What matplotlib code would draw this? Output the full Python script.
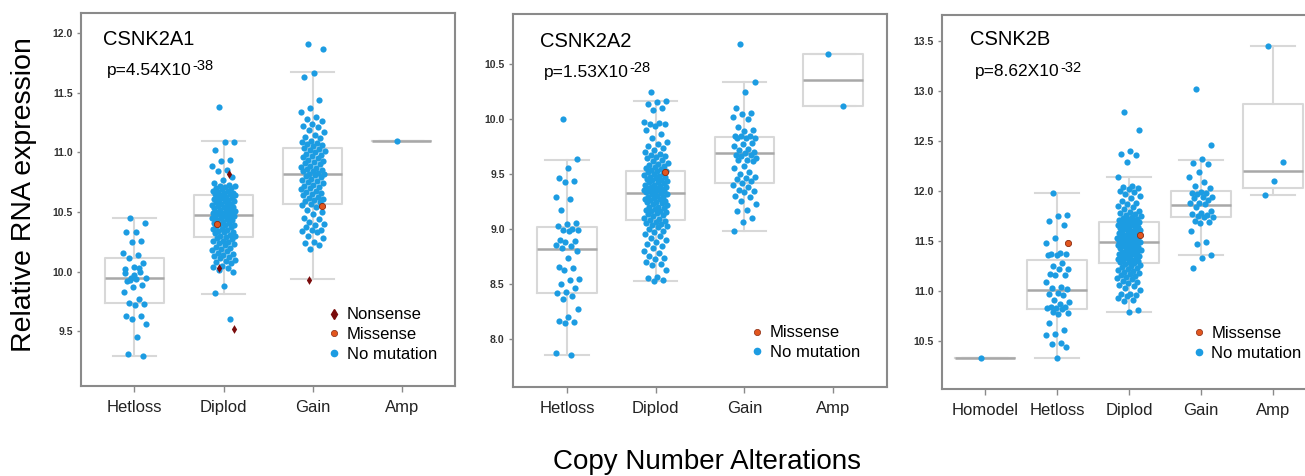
import numpy as np
import matplotlib
matplotlib.use("Agg")
import matplotlib.pyplot as plt
from matplotlib.lines import Line2D

plt.rcParams['font.family'] = ['Liberation Sans', 'DejaVu Sans']

# ---------------- data ----------------
genes = ['CSNK2A1', 'CSNK2A2', 'CSNK2B']
pvals = [('p=4.54X10', '-38'), ('p=1.53X10', '-28'), ('p=8.62X10', '-32')]
cats_a = ['Hetloss', 'Diplod', 'Gain', 'Amp']
cats_b = ['Homodel', 'Hetloss', 'Diplod', 'Gain', 'Amp']

# CSNK2A1
a1_het = [10.45, 10.41, 10.33, 10.33, 10.26, 10.25, 10.16, 10.14, 10.11, 10.07, 10.04, 10.02,
          10.00, 9.95, 9.95, 9.94, 9.92, 9.89, 9.87, 9.83, 9.77, 9.74, 9.73, 9.72, 9.63, 9.63,
          9.60, 9.56, 9.45, 9.31, 9.29, 9.97, 9.99, 10.03, 9.93]
a1_dip = [11.38, 11.09, 11.09, 11.02, 10.94, 10.93, 10.89, 10.85, 10.84, 10.79, 10.77, 10.74,
          10.73, 10.72, 10.72, 10.71, 10.70, 10.70, 10.69, 10.68, 10.68, 10.67, 10.66, 10.66,
          10.65, 10.65, 10.64, 10.64, 10.63, 10.63, 10.62, 10.62, 10.61, 10.60, 10.60, 10.59,
          10.59, 10.58, 10.57, 10.57, 10.56, 10.56, 10.55, 10.54, 10.54, 10.53, 10.53, 10.52,
          10.51, 10.51, 10.50, 10.50, 10.49, 10.49, 10.48, 10.48, 10.47, 10.47, 10.46, 10.46,
          10.45, 10.45, 10.44, 10.43, 10.43, 10.42, 10.41, 10.41, 10.40, 10.39, 10.39, 10.38,
          10.37, 10.36, 10.36, 10.35, 10.34, 10.33, 10.33, 10.32, 10.31, 10.30, 10.30, 10.29,
          10.28, 10.27, 10.26, 10.26, 10.25, 10.24, 10.23, 10.22, 10.21, 10.20, 10.19, 10.18,
          10.17, 10.16, 10.15, 10.14, 10.13, 10.12, 10.11, 10.10, 10.09, 10.08, 10.07, 10.05,
          10.04, 10.03, 10.01, 10.00, 9.88, 9.82, 9.60]
a1_gain = [11.91, 11.87, 11.67, 11.63, 11.44, 11.37, 11.34, 11.30, 11.28, 11.26, 11.24, 11.22,
           11.21, 11.19, 11.17, 11.15, 11.13, 11.12, 11.10, 11.09, 11.08, 11.07, 11.06, 11.05,
           11.04, 11.03, 11.02, 11.01, 11.00, 10.99, 10.98, 10.97, 10.96, 10.95, 10.94, 10.93,
           10.92, 10.91, 10.90, 10.89, 10.88, 10.87, 10.86, 10.85, 10.84, 10.84, 10.83, 10.82,
           10.82, 10.81, 10.80, 10.79, 10.78, 10.77, 10.76, 10.75, 10.74, 10.73, 10.72, 10.71,
           10.70, 10.69, 10.68, 10.67, 10.66, 10.65, 10.64, 10.63, 10.62, 10.61, 10.60, 10.59,
           10.58, 10.57, 10.56, 10.54, 10.52, 10.50, 10.48, 10.45, 10.44, 10.42, 10.40, 10.39,
           10.37, 10.35, 10.35, 10.34, 10.33, 10.30, 10.28, 10.25, 10.24, 10.22, 10.19]
a1_amp = [11.10]
a1_missense = [[], [10.40], [10.55], []]
a1_nonsense = [[], [10.82, 10.03, 9.52], [9.93], []]
a1_q1 = [9.735, 10.294, 10.568, 11.10]
a1_med = [9.95, 10.473, 10.817, 11.10]
a1_q3 = [10.118, 10.644, 11.035, 11.10]
a1_lo = [9.29, 9.813, 9.934, 11.10]
a1_hi = [10.448, 11.094, 11.673, 11.10]

# CSNK2A2
a2_het = [10.00, 9.63, 9.55, 9.46, 9.43, 9.42, 9.29, 9.27, 9.17, 9.05, 9.04, 9.02, 9.00, 8.99,
          8.99, 8.98, 8.90, 8.89, 8.88, 8.85, 8.84, 8.82, 8.80, 8.73, 8.65, 8.64, 8.62, 8.54,
          8.53, 8.50, 8.46, 8.42, 8.41, 8.39, 8.36, 8.27, 8.20, 8.16, 8.15, 8.14, 7.87, 7.85]
a2_dip = [10.24, 10.16, 10.15, 10.13, 10.10, 10.08, 9.97, 9.96, 9.95, 9.95, 9.93, 9.90, 9.86,
          9.82, 9.79, 9.77, 9.75, 9.73, 9.71, 9.70, 9.68, 9.67, 9.66, 9.65, 9.64, 9.62, 9.61,
          9.60, 9.59, 9.58, 9.57, 9.56, 9.55, 9.54, 9.53, 9.52, 9.52, 9.51, 9.50, 9.50, 9.49,
          9.48, 9.47, 9.47, 9.46, 9.45, 9.44, 9.44, 9.43, 9.42, 9.42, 9.41, 9.40, 9.40, 9.39,
          9.38, 9.38, 9.37, 9.37, 9.36, 9.36, 9.35, 9.35, 9.34, 9.34, 9.33, 9.33, 9.32, 9.31,
          9.31, 9.30, 9.29, 9.29, 9.28, 9.27, 9.27, 9.26, 9.25, 9.24, 9.24, 9.23, 9.22, 9.21,
          9.20, 9.20, 9.19, 9.18, 9.17, 9.16, 9.16, 9.15, 9.14, 9.13, 9.12, 9.11, 9.10, 9.09,
          9.08, 9.07, 9.06, 9.05, 9.04, 9.03, 9.02, 9.01, 9.00, 8.98, 8.97, 8.95, 8.93, 8.91,
          8.90, 8.88, 8.86, 8.84, 8.82, 8.80, 8.78, 8.75, 8.73, 8.72, 8.70, 8.68, 8.67, 8.62,
          8.56, 8.55, 8.53, 8.52]
a2_gain = [10.68, 10.33, 10.24, 10.10, 10.05, 10.04, 10.01, 10.00, 9.92, 9.90, 9.89, 9.84, 9.84,
           9.84, 9.82, 9.82, 9.82, 9.78, 9.77, 9.75, 9.72, 9.71, 9.70, 9.69, 9.67, 9.67, 9.66,
           9.64, 9.62, 9.62, 9.61, 9.57, 9.55, 9.51, 9.50, 9.47, 9.46, 9.45, 9.43, 9.41, 9.40,
           9.38, 9.35, 9.34, 9.33, 9.30, 9.29, 9.25, 9.22, 9.17, 9.16, 9.10, 9.06, 8.98]
a2_amp = [10.59, 10.11]
a2_missense = [[], [9.51], [], []]
a2_q1 = [8.415, 9.079, 9.412, 10.112]
a2_med = [8.818, 9.324, 9.685, 10.348]
a2_q3 = [9.012, 9.524, 9.836, 10.588]
a2_lo = [7.85, 8.521, 8.976, 10.112]
a2_hi = [9.627, 10.157, 10.333, 10.588]

# CSNK2B
b_homo = [10.33]
b_het = [11.98, 11.76, 11.75, 11.70, 11.66, 11.53, 11.48, 11.38, 11.37, 11.37, 11.36, 11.36,
         11.28, 11.25, 11.22, 11.22, 11.17, 11.16, 11.16, 11.09, 11.04, 11.03, 11.02, 10.98,
         10.97, 10.96, 10.91, 10.89, 10.87, 10.84, 10.84, 10.83, 10.83, 10.82, 10.79, 10.78,
         10.77, 10.68, 10.61, 10.57, 10.56, 10.48, 10.47, 10.44, 10.33]
b_dip = [12.79, 12.61, 12.40, 12.37, 12.36, 12.29, 12.14, 12.05, 12.04, 12.03, 12.02, 12.00,
         11.99, 11.97, 11.95, 11.93, 11.90, 11.88, 11.87, 11.85, 11.84, 11.82, 11.80, 11.79,
         11.78, 11.77, 11.76, 11.75, 11.74, 11.73, 11.72, 11.72, 11.71, 11.70, 11.70, 11.69,
         11.69, 11.68, 11.68, 11.67, 11.66, 11.66, 11.65, 11.64, 11.64, 11.63, 11.62, 11.62,
         11.61, 11.60, 11.60, 11.59, 11.58, 11.58, 11.57, 11.56, 11.56, 11.55, 11.55, 11.54,
         11.53, 11.53, 11.52, 11.52, 11.51, 11.51, 11.50, 11.50, 11.49, 11.49, 11.48, 11.48,
         11.47, 11.47, 11.46, 11.45, 11.45, 11.44, 11.43, 11.43, 11.42, 11.41, 11.41, 11.40,
         11.39, 11.39, 11.38, 11.37, 11.37, 11.36, 11.35, 11.35, 11.34, 11.33, 11.33, 11.32,
         11.31, 11.31, 11.30, 11.29, 11.29, 11.28, 11.27, 11.26, 11.25, 11.24, 11.23, 11.22,
         11.21, 11.20, 11.19, 11.18, 11.17, 11.16, 11.15, 11.14, 11.13, 11.12, 11.10, 11.09,
         11.08, 11.06, 11.05, 11.03, 11.01, 10.97, 10.97, 10.96, 10.95, 10.93, 10.91, 10.90,
         10.81, 10.79]
b_gain = [13.02, 12.46, 12.32, 12.28, 12.27, 12.19, 12.14, 12.09, 12.05, 12.03, 11.99, 11.98,
          11.98, 11.97, 11.94, 11.94, 11.93, 11.91, 11.88, 11.88, 11.87, 11.84, 11.80, 11.78,
          11.77, 11.76, 11.75, 11.74, 11.74, 11.70, 11.69, 11.68, 11.60, 11.49, 11.47, 11.36,
          11.33, 11.23]
b_amp = [13.45, 12.29, 12.10, 11.96]
b_missense = [[], [11.48], [11.56], [], []]
b_q1 = [10.333, 10.82, 11.283, 11.737, 12.03]
b_med = [10.333, 11.01, 11.493, 11.86, 12.197]
b_q3 = [10.333, 11.307, 11.687, 11.997, 12.867]
b_lo = [10.333, 10.327, 10.787, 11.357, 11.96]
b_hi = [10.333, 11.977, 12.14, 12.313, 13.447]

# ---------------- styling ----------------
blue = '#1c9ce2'
miss_c = '#e2561e'
miss_e = '#8a2a10'
nons_c = '#7a0c0c'
box_c = '#d8d8d8'
med_c = '#a8a8a8'
spine_c = '#8a8a8a'


def jitter(n, start, half):
    # deterministic spread (golden ratio sequence) so points do not overlap
    k = np.arange(start, start + n)
    return ((k * 0.6180339887 + 0.31) % 1.0 - 0.5) * 2 * half


def panel(ax, cats, groups, q1, med, q3, lo, hi, missense, nonsense, xlim, ylim, yticks,
          half, boxw, capw):
    stats = []
    for i in range(len(cats)):
        stats.append(dict(q1=q1[i], med=med[i], q3=q3[i], whislo=lo[i], whishi=hi[i],
                          fliers=[]))
    pos = np.arange(1, len(cats) + 1)
    ax.bxp(stats, positions=pos, widths=boxw, capwidths=capw, showfliers=False,
           boxprops=dict(color=box_c, lw=1.5),
           whiskerprops=dict(color=box_c, lw=1.5),
           capprops=dict(color=box_c, lw=1.5),
           medianprops=dict(color=med_c, lw=1.8), zorder=1)
    for i, vals in enumerate(groups):
        vals = np.asarray(vals)
        ax.scatter(pos[i] + jitter(len(vals), 0, half), vals, s=20, color=blue,
                   lw=0, zorder=3)
        m = missense[i]
        if len(m):
            ax.scatter(pos[i] + jitter(len(m), len(vals) + 3, half), m, s=20, color=miss_c,
                       edgecolors=miss_e, lw=0.6, zorder=4)
        if nonsense is not None and len(nonsense[i]):
            nn = nonsense[i]
            ax.scatter(pos[i] + jitter(len(nn), len(vals) + 7, half), nn, s=20, marker='d',
                       color=nons_c, lw=0, zorder=4)
    ax.set_xlim(xlim)
    ax.set_ylim(ylim)
    ax.set_xticks(pos)
    ax.set_xticklabels(cats, fontsize=12, color='#222222')
    ax.set_yticks(yticks)
    ax.set_yticklabels(['%.1f' % t for t in yticks], fontsize=7.5, fontweight='bold',
                       color='#333333')
    ax.tick_params(axis='x', length=4, width=1, color=spine_c, pad=6)
    ax.tick_params(axis='y', length=3, width=1, color=spine_c, pad=3)
    for sp in ax.spines.values():
        sp.set_color(spine_c)
        sp.set_linewidth(1.5)


def label(ax, gene, p, tx, ty, px, py):
    ax.text(tx, ty, gene, transform=ax.transAxes, fontsize=14.5, va='baseline', ha='left')
    t = ax.text(px, py, p[0], transform=ax.transAxes, fontsize=12.5, va='baseline', ha='left')
    ax.annotate(p[1], xy=(1, 1), xycoords=t, xytext=(0.3, 2.5), textcoords='offset points',
                fontsize=10.5, va='top', ha='left')


def legend(ax, handles, labels, x, y):
    ax.legend(handles, labels, loc='lower right', bbox_to_anchor=(x, y), frameon=False,
              fontsize=12, handlelength=0.5, handletextpad=0.5, labelspacing=0.28,
              borderpad=0, borderaxespad=0)


h_non = Line2D([], [], ls='none', marker='d', color=nons_c, markersize=5)
h_mis = Line2D([], [], ls='none', marker='o', color=miss_c, markeredgecolor=miss_e,
               markeredgewidth=0.5, markersize=4.5)
h_no = Line2D([], [], ls='none', marker='o', color=blue, markersize=4.5)

fig = plt.figure(figsize=(13.05, 4.76), dpi=100)
ax1 = fig.add_axes([0.0621, 0.1891, 0.2866, 0.7836])
ax2 = fig.add_axes([0.3931, 0.1870, 0.2866, 0.7836])
ax3 = fig.add_axes([0.7218, 0.1828, 0.2866, 0.7857])

panel(ax1, cats_a, [a1_het, a1_dip, a1_gain, a1_amp], a1_q1, a1_med, a1_q3, a1_lo, a1_hi,
      a1_missense, a1_nonsense, (0.40, 4.60), (9.04, 12.17),
      [9.5, 10.0, 10.5, 11.0, 11.5, 12.0], 0.135, 0.67, 0.49)
panel(ax2, cats_a, [a2_het, a2_dip, a2_gain, a2_amp], a2_q1, a2_med, a2_q3, a2_lo, a2_hi,
      a2_missense, None, (0.39, 4.61), (7.56, 10.95),
      [8.0, 8.5, 9.0, 9.5, 10.0, 10.5], 0.135, 0.67, 0.49)
panel(ax3, cats_b, [b_homo, b_het, b_dip, b_gain, b_amp], b_q1, b_med, b_q3, b_lo, b_hi,
      b_missense, None, (0.40, 5.60), (10.02, 13.76),
      [10.5, 11.0, 11.5, 12.0, 12.5, 13.0, 13.5], 0.165, 0.83, 0.62)

label(ax1, genes[0], pvals[0], 0.059, 0.914, 0.069, 0.834)
label(ax2, genes[1], pvals[1], 0.072, 0.912, 0.083, 0.832)
label(ax3, genes[2], pvals[2], 0.075, 0.921, 0.088, 0.836)

legend(ax1, [h_non, h_mis, h_no], ['Nonsense', 'Missense', 'No mutation'], 0.952, 0.065)
legend(ax2, [h_mis, h_no], ['Missense', 'No mutation'], 0.928, 0.072)
legend(ax3, [h_mis, h_no], ['Missense', 'No mutation'], 0.962, 0.075)

fig.text(24 / 1305, 1 - 195 / 476, 'Relative RNA expression', rotation=90, fontsize=20.5,
         ha='center', va='center')
fig.text(707 / 1305, 1 - 462 / 476, 'Copy Number Alterations', fontsize=20,
         ha='center', va='center')

fig.savefig('out.png', dpi=100)
